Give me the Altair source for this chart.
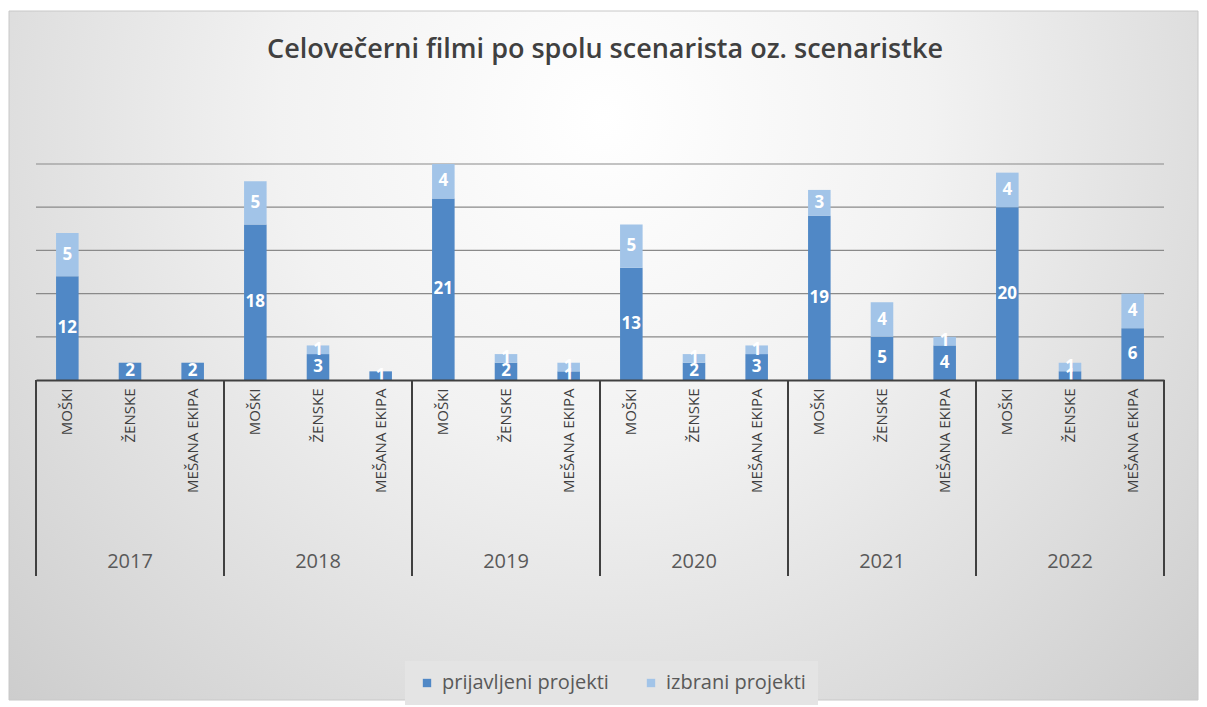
import altair as alt
import pandas as pd

years = ["2017", "2018", "2019", "2020", "2021", "2022"]
categories = ["MOŠKI", "ŽENSKE", "MEŠANA EKIPA"]
series = ["prijavljeni projekti", "izbrani projekti"]
prijavljeni = [12, 2, 2, 18, 3, 1, 21, 2, 1, 13, 2, 3, 19, 5, 4, 20, 1, 6]
izbrani = [5, 0, 0, 5, 1, 0, 4, 1, 1, 5, 1, 1, 3, 4, 1, 4, 1, 4]
grid_values = [5, 10, 15, 20, 25]
title_text = "Celovečerni filmi po spolu scenarista oz. scenaristke"

W, H = 1128, 216
DARK, LIGHT = "#5088c6", "#a2c4e8"
FONT = "Open Sans"

keys = [f"{y}|{c}" for y in years for c in categories]
rows = []
i = 0
for y in years:
    for c in categories:
        k = f"{y}|{c}"
        rows.append({"key": k, "series": series[0], "ord": 0, "value": prijavljeni[i]})
        rows.append({"key": k, "series": series[1], "ord": 1, "value": izbrani[i]})
        i += 1
df = pd.DataFrame(rows)

xscale = alt.Scale(domain=keys, paddingInner=0, paddingOuter=0)
yscale = alt.Scale(domain=[0, 25], nice=False)
xaxis = alt.Axis(
    title=None, labelAngle=270, labelExpr="split(datum.label, '|')[1]",
    ticks=False, domainColor="#404040", domainWidth=2, labelPadding=8,
    labelFontSize=15, labelColor="#404040", labelFont=FONT, grid=False, zindex=1,
)

bg = alt.Chart(alt.Data(values=[{"a": 1}])).mark_rect(
    fill={"gradient": "radial",
          "stops": [{"offset": 0, "color": "#ffffff"}, {"offset": 0.35, "color": "#f2f2f2"},
                    {"offset": 1, "color": "#c6c6c6"}],
          "x1": 0.5, "y1": 0.3, "r1": 0, "x2": 0.5, "y2": 0.3, "r2": 0.78},
    stroke="#c8c8c8", strokeWidth=1,
).encode(x=alt.value(-27), x2=alt.value(W + 34), y=alt.value(-153), y2=alt.value(H + 320))

grid = alt.Chart(pd.DataFrame({"g": grid_values})).mark_rule(
    color="#8a8a8a", strokeWidth=1.2
).encode(y=alt.Y("g:Q", scale=yscale, axis=None))

bars = alt.Chart(df).mark_bar(width={"band": 0.36}).encode(
    x=alt.X("key:N", sort=keys, scale=xscale, axis=xaxis),
    y=alt.Y("value:Q", stack="zero", scale=yscale, axis=None),
    color=alt.Color("series:N", scale=alt.Scale(domain=series, range=[DARK, LIGHT]),
                    legend=alt.Legend(
                        title=None, orient="none", direction="horizontal",
                        legendX=369, legendY=497, symbolType="square", symbolSize=70,
                        labelFontSize=20, labelColor="#595959", labelFont=FONT,
                        labelOffset=5, zindex=1, columnPadding=32, labelLimit=400,
                        fillColor="#e4e4e4", padding=12,
                    )),
    order=alt.Order("ord:Q"),
)

labels = alt.Chart(df).transform_filter("datum.value > 0").transform_stack(
    stack="value", as_=["v0", "v1"], groupby=["key"], sort=[alt.SortField("ord")]
).transform_calculate(mid="(datum.v0 + datum.v1) / 2").mark_text(
    color="white", fontWeight="bold", fontSize=17, font=FONT, baseline="middle"
).encode(
    x=alt.X("key:N", sort=keys, scale=xscale, axis=xaxis),
    y=alt.Y("mid:Q", scale=yscale, axis=None),
    text=alt.Text("value:Q"),
)

sep_df = pd.DataFrame({"key": [f"{y}|{categories[0]}" for y in years]})
seps = alt.Chart(sep_df).mark_rule(color="#404040", strokeWidth=2).encode(
    x=alt.X("key:N", sort=keys, scale=xscale, axis=xaxis, bandPosition=0),
    y=alt.value(H), y2=alt.value(H + 196),
)
sep_end = alt.Chart(pd.DataFrame({"key": [keys[-1]]})).mark_rule(color="#404040", strokeWidth=2).encode(
    x=alt.X("key:N", sort=keys, scale=xscale, axis=xaxis, bandPosition=1),
    y=alt.value(H), y2=alt.value(H + 196),
)

year_df = pd.DataFrame({"key": [f"{y}|{categories[1]}" for y in years], "year": years})
year_text = alt.Chart(year_df).mark_text(
    fontSize=20, color="#595959", font=FONT, baseline="middle"
).encode(
    x=alt.X("key:N", sort=keys, scale=xscale, axis=xaxis),
    y=alt.value(H + 182),
    text="year:N",
)

title = alt.Chart(alt.Data(values=[{"t": title_text}])).mark_text(
    fontSize=27, color="#404040", font=FONT, fontWeight=600, baseline="middle"
).encode(x=alt.value(W / 2 + 5), y=alt.value(-114), text="t:N")

chart = alt.layer(bg, grid, bars, labels, seps, sep_end, year_text, title).properties(
    width=W, height=H, padding={"left": 0, "top": 2, "right": 0, "bottom": 0},
    background="#ffffff",
).configure_view(stroke=None)

chart.save("out.html", embed_options={"renderer": "svg", "actions": False})
